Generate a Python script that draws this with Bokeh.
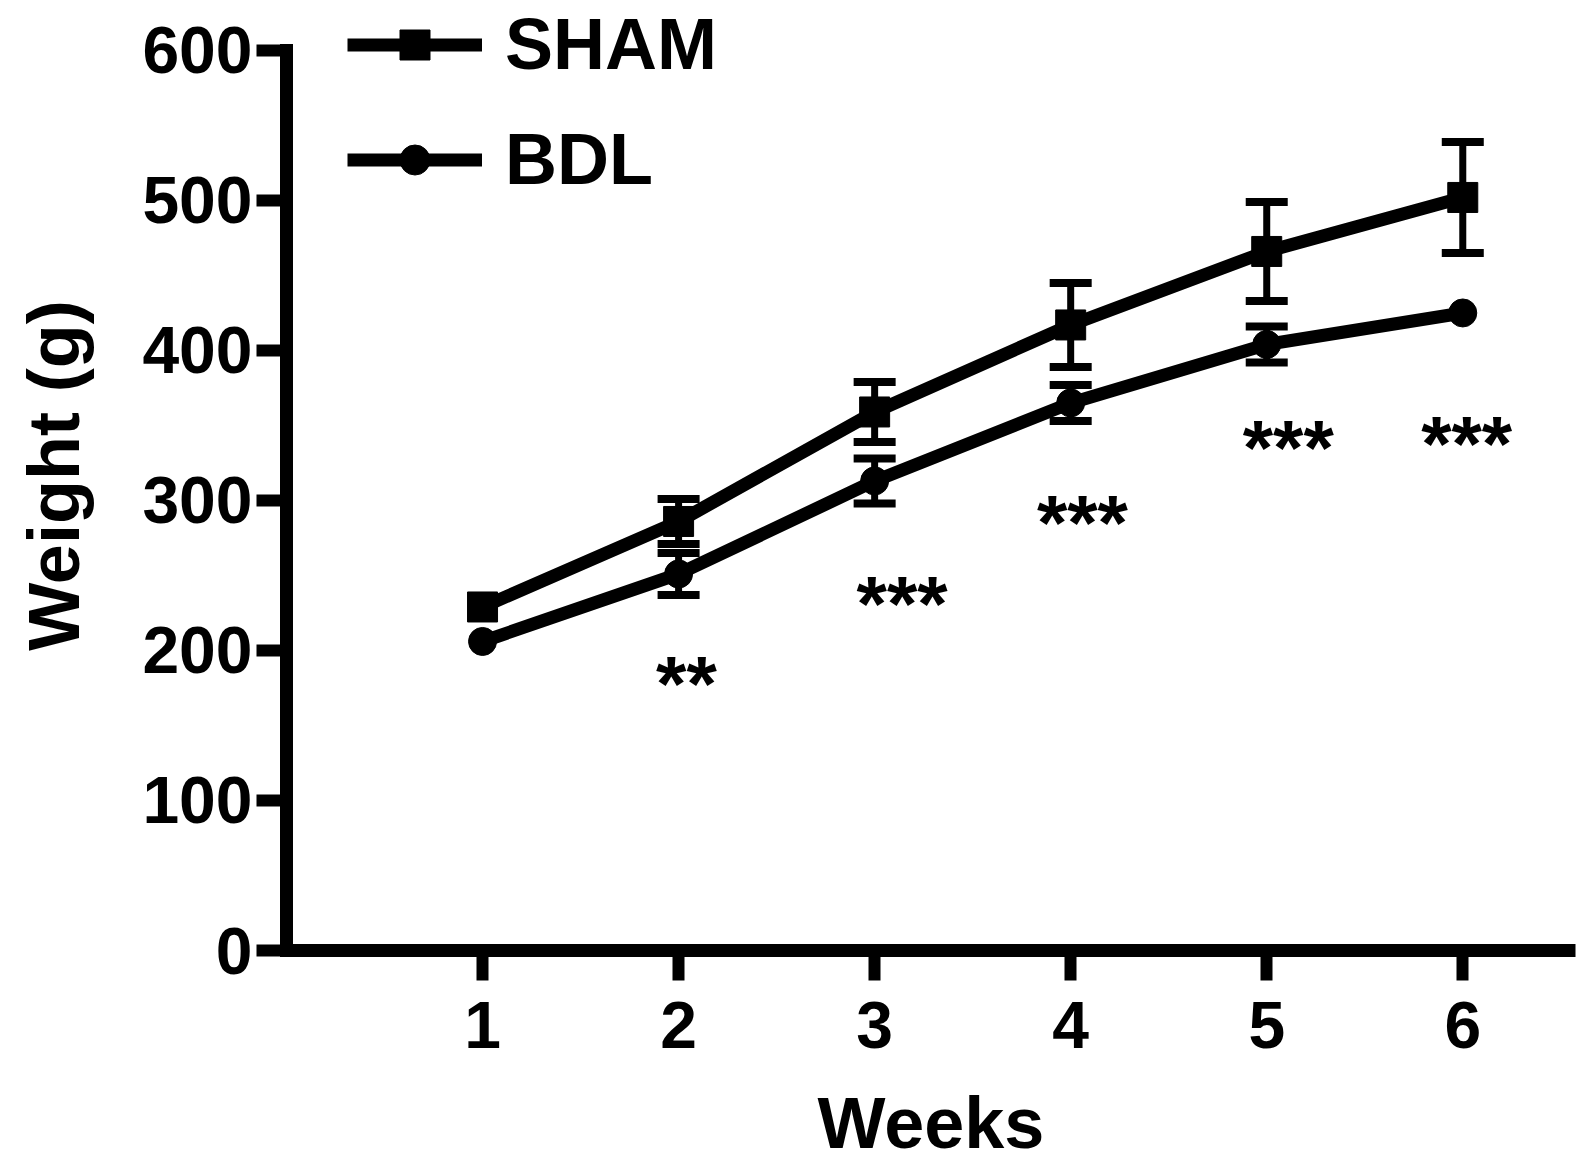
from bokeh.plotting import figure
from bokeh.models import (ColumnDataSource, Range1d, FixedTicker, Whisker, TeeHead,
                          Legend, LegendItem)
from bokeh.core.properties import value
from bokeh.embed import file_html
from bokeh.resources import INLINE

# ---- data ----
weeks = [1, 2, 3, 4, 5, 6]
sham_mean = [229, 286, 359, 417, 466, 502]
sham_sem = [0, 15, 20, 28, 33, 37]
bdl_mean = [206, 251, 313, 365, 404, 425]
bdl_sem = [0, 14, 15, 12, 12, 0]
sig_labels = ["**", "***", "***", "***", "***"]
sig_x = [2.04, 3.14, 4.06, 5.11, 6.02]
sig_y = [185, 238, 292, 342, 345]
y_ticks = [0, 100, 200, 300, 400, 500, 600]

FONT = "Liberation Sans"

p = figure(width=1585, height=1167, output_backend="svg", toolbar_location=None,
           x_range=Range1d(0, 6.575), y_range=Range1d(0, 633.3),
           min_border_left=286, min_border_right=10, min_border_top=0,
           min_border_bottom=217)
p.outline_line_color = None
p.xgrid.visible = False
p.ygrid.visible = False
p.background_fill_color = "white"
p.border_fill_color = "white"

for ax in (p.xaxis[0], p.yaxis[0]):
    ax.axis_line_width = 13
    ax.axis_line_color = "black"
    ax.major_tick_line_width = 12
    ax.major_tick_line_color = "black"
    ax.major_tick_in = 0
    ax.major_tick_out = 30
    ax.minor_tick_line_color = None
    ax.major_label_text_font = FONT
    ax.major_label_text_font_style = "bold"
    ax.major_label_text_font_size = "66px"
    ax.major_label_text_color = "black"
    ax.axis_label_text_font = FONT
    ax.axis_label_text_font_style = "bold"
    ax.axis_label_text_font_size = "72px"
    ax.axis_label_text_color = "black"

p.xaxis.ticker = FixedTicker(ticks=weeks)
p.yaxis.ticker = FixedTicker(ticks=y_ticks)
p.yaxis.bounds = (0, 600)
p.yaxis.axis_line_cap = "square"
p.xaxis.axis_label = "Weeks"
p.yaxis.axis_label = "Weight (g)"
p.xaxis.major_label_standoff = 21
p.yaxis.major_label_standoff = 4
p.xaxis.axis_label_standoff = 32
p.yaxis.axis_label_standoff = 45

# ---- series ----
sham_line = p.line(weeks, sham_mean, line_width=13, line_color="black")
bdl_line = p.line(weeks, bdl_mean, line_width=13, line_color="black")
sham_pts = p.scatter(weeks, sham_mean, marker="square", size=30, color="black")
bdl_pts = p.scatter(weeks, bdl_mean, marker="circle", size=28, color="black")


def err_source(means, sems):
    xs = [w for w, s in zip(weeks, sems) if s > 0]
    up = [m + s for m, s in zip(means, sems) if s > 0]
    lo = [m - s for m, s in zip(means, sems) if s > 0]
    return ColumnDataSource(dict(x=xs, upper=up, lower=lo))


for means, sems in ((sham_mean, sham_sem), (bdl_mean, bdl_sem)):
    w = Whisker(source=err_source(means, sems), base="x", upper="upper", lower="lower",
                line_width=7, line_color="black",
                upper_head=TeeHead(size=42, line_width=8, line_color="black"),
                lower_head=TeeHead(size=42, line_width=8, line_color="black"))
    p.add_layout(w)

p.text(x=sig_x, y=sig_y, text=sig_labels, text_font=value(FONT), text_font_style="bold",
       text_font_size="78px", text_align="center", text_baseline="alphabetic",
       y_offset=11, text_color="black")

legend = Legend(items=[LegendItem(label="SHAM", renderers=[sham_line, sham_pts]),
                       LegendItem(label="BDL", renderers=[bdl_line, bdl_pts])],
                location=(61, 750), orientation="vertical",
                glyph_width=135, glyph_height=75, label_height=75,
                label_standoff=23, spacing=33, padding=0, margin=0,
                label_text_font=FONT, label_text_font_style="bold",
                label_text_font_size="72px", label_text_color="black",
                background_fill_alpha=0, border_line_alpha=0)
p.add_layout(legend)

open("out.html", "w").write(file_html(p, INLINE))
